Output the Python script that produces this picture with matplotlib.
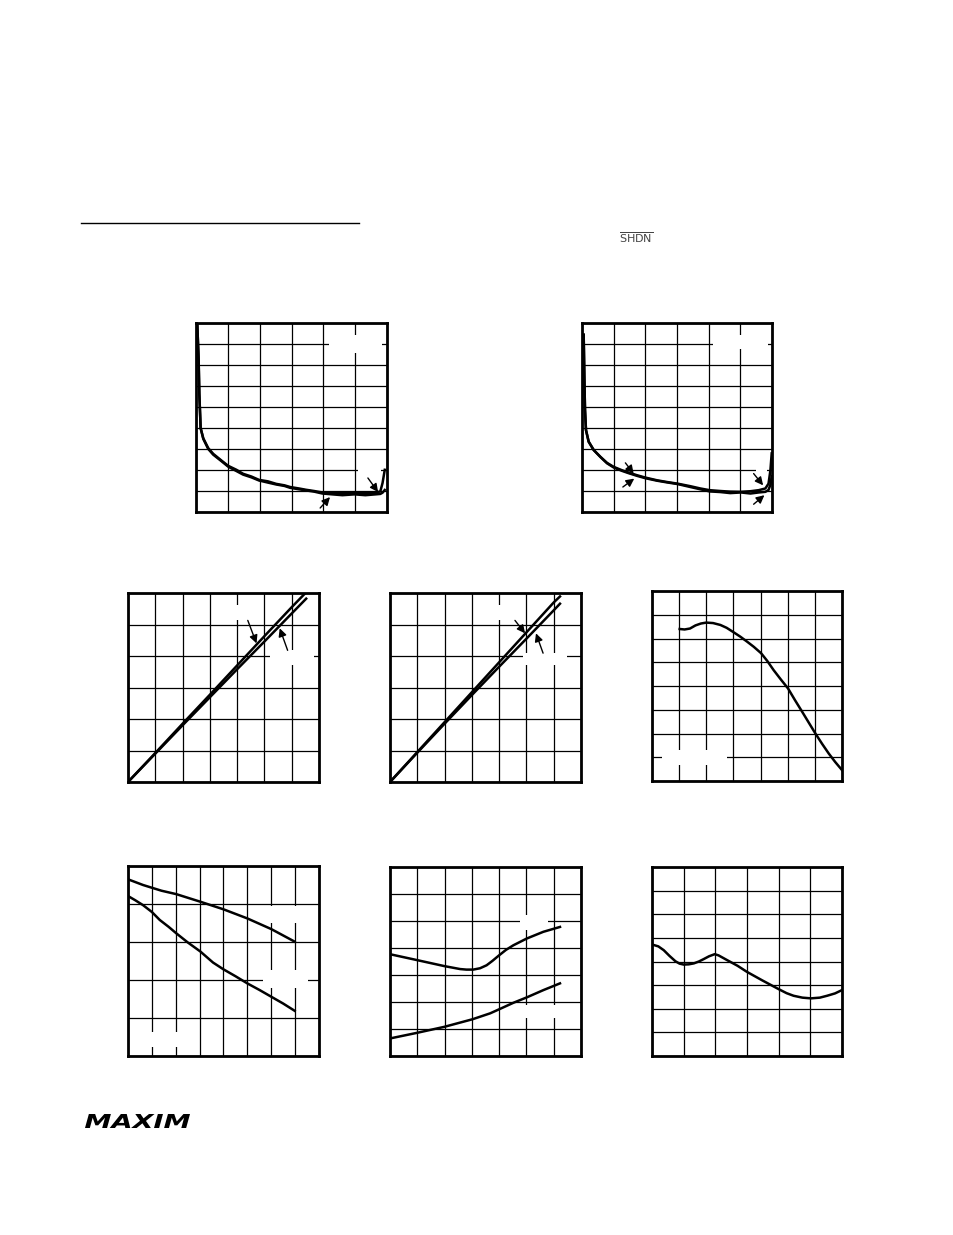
import numpy as np
import matplotlib
matplotlib.use('Agg')
import matplotlib.pyplot as plt
from matplotlib.patches import Rectangle, PathPatch
from matplotlib.textpath import TextPath
from matplotlib.font_manager import FontProperties
from matplotlib.transforms import Affine2D

# grid units on every panel (tick labels are blank on the page)
# panel 1: two traces, steep drop then flat
p1_x = [0.04, 0.083, 0.104, 0.146, 0.229, 0.385, 0.541, 0.80, 1.01, 1.27, 1.48, 1.74, 1.98, 2.26, 2.52,
        2.78, 2.96, 3.24, 3.45, 3.71, 3.97, 4.28, 4.60, 4.98, 5.32, 5.64, 5.79, 5.86, 5.93]
p1_a = [8.97, 7.23, 5.65, 3.99, 3.51, 3.04, 2.77, 2.45, 2.20, 2.01, 1.82, 1.69, 1.53, 1.46, 1.34,
        1.27, 1.19, 1.12, 1.06, 1.00, 0.93, 0.90, 0.90, 0.90, 0.90, 0.92, 0.98, 1.38, 2.01]
p1_b = [8.97, 7.23, 5.65, 3.99, 3.48, 3.00, 2.73, 2.42, 2.16, 1.95, 1.78, 1.65, 1.50, 1.40, 1.31,
        1.24, 1.15, 1.08, 1.03, 0.97, 0.88, 0.84, 0.80, 0.84, 0.80, 0.84, 0.86, 0.92, 1.05]

# panel 2
p2_x = [0.053, 0.074, 0.095, 0.126, 0.21, 0.37, 0.58, 0.79, 1.0, 1.26, 1.47, 1.74, 2.0, 2.37, 2.68,
        3.02, 3.42, 3.74, 4.03, 4.37, 4.68, 5.02, 5.32, 5.58, 5.79, 5.89, 5.95, 5.99]
p2_a = [8.44, 6.45, 4.86, 3.90, 3.35, 2.95, 2.63, 2.34, 2.15, 1.99, 1.88, 1.75, 1.64, 1.51, 1.43,
        1.35, 1.23, 1.12, 1.04, 1.00, 0.97, 0.96, 0.99, 1.04, 1.12, 1.35, 1.99, 2.79]
p2_b = [8.44, 6.45, 4.86, 3.90, 3.35, 2.95, 2.62, 2.32, 2.12, 1.96, 1.85, 1.72, 1.61, 1.49, 1.41,
        1.33, 1.19, 1.08, 0.98, 0.95, 0.90, 0.93, 0.88, 0.93, 0.96, 1.05, 1.30, 1.70]

# panel 3: two near-straight lines
p3_xa = [0, 1, 2, 3, 4, 5, 6, 6.47]
p3_ya = [0, 0.92, 1.85, 2.77, 3.70, 4.63, 5.55, 5.97]
p3_xb = [0, 1, 2, 3, 4, 5, 6, 6.53]
p3_yb = [0, 0.90, 1.80, 2.69, 3.58, 4.46, 5.35, 5.82]

# panel 4
p4_xa = [0, 1, 2, 3, 4, 5, 6, 6.23]
p4_ya = [0, 0.95, 1.90, 2.85, 3.80, 4.75, 5.70, 5.89]
p4_xb = [0, 1, 2, 3, 4, 5, 6, 6.23]
p4_yb = [0, 0.93, 1.85, 2.76, 3.66, 4.55, 5.45, 5.66]

# panel 5: single roll-off curve
p5_x = [1.02, 1.2, 1.4, 1.6, 1.8, 2.0, 2.25, 2.52, 2.75, 3.01, 3.25, 3.5, 3.75, 4.02, 4.25, 4.48,
        4.75, 5.01, 5.27, 5.53, 5.78, 6.02, 6.27, 6.51, 6.75, 7.0]
p5_y = [6.40, 6.38, 6.42, 6.55, 6.63, 6.67, 6.65, 6.57, 6.45, 6.26, 6.08, 5.87, 5.65, 5.38, 5.05, 4.67,
        4.27, 3.90, 3.40, 2.92, 2.45, 2.00, 1.56, 1.16, 0.80, 0.46]

# panel 6: two falling curves
p6_x = [0, 0.63, 1.4, 2.02, 3.03, 4.0, 5.0, 6.0, 6.98]
p6_a = [4.65, 4.50, 4.35, 4.26, 4.06, 3.86, 3.62, 3.34, 3.01]
p6_xb = [0, 0.3, 0.63, 1.0, 1.33, 1.7, 2.02, 2.5, 3.03, 3.56, 4.0, 4.5, 5.0, 5.5, 6.0, 6.5, 6.98]
p6_b = [4.21, 4.10, 3.97, 3.79, 3.58, 3.40, 3.23, 2.99, 2.75, 2.46, 2.28, 2.10, 1.91, 1.74, 1.56, 1.38, 1.19]

# panel 7: dip-then-rise curve and rising curve
p7_xa = [0, 1.0, 1.99, 2.57, 2.8, 3.05, 3.3, 3.54, 3.75, 4.0, 4.25, 4.52, 5.01, 5.62, 6.23]
p7_ya = [3.77, 3.55, 3.33, 3.22, 3.20, 3.20, 3.25, 3.36, 3.52, 3.73, 3.93, 4.10, 4.35, 4.60, 4.78]
p7_xb = [0, 1.0, 1.99, 3.02, 3.67, 4.0, 4.52, 5.01, 5.62, 6.23]
p7_yb = [0.65, 0.86, 1.08, 1.36, 1.58, 1.73, 1.97, 2.17, 2.44, 2.69]

# panel 8: wavy curve
p8_x = [0, 0.2, 0.37, 0.55, 0.74, 0.87, 1.0, 1.16, 1.32, 1.48, 1.63, 1.8, 1.98, 2.1, 2.37, 2.7, 3.0,
        3.47, 4.0, 4.25, 4.47, 4.75, 5.02, 5.3, 5.53, 5.78, 6.0]
p8_y = [4.72, 4.64, 4.48, 4.24, 4.01, 3.91, 3.87, 3.88, 3.92, 4.00, 4.10, 4.22, 4.31, 4.26, 4.06, 3.82,
        3.56, 3.21, 2.83, 2.66, 2.55, 2.47, 2.44, 2.47, 2.55, 2.65, 2.79]

W, H = 954, 1235
fig = plt.figure(figsize=(W / 100, H / 100), dpi=100)
fig.patch.set_facecolor('white')


def panel(x0, y0, x1, y1, nx, ny):
    """Axes placed by page pixels, plain black grid, no labels"""
    ax = fig.add_axes([x0 / W, 1 - y1 / H, (x1 - x0) / W, (y1 - y0) / H])
    ax.set_xlim(0, nx)
    ax.set_ylim(0, ny)
    ax.set_xticks(range(nx + 1))
    ax.set_yticks(range(ny + 1))
    ax.tick_params(length=0, labelbottom=False, labelleft=False)
    ax.set_axisbelow(True)
    ax.grid(True, color='black', lw=0.9)
    for s in ax.spines.values():
        s.set_linewidth(2.0)
        s.set_zorder(5)
    return ax


def blank(ax, x0, x1, y0, y1):
    # white area where a label used to sit
    ax.add_patch(Rectangle((x0, y0), x1 - x0, y1 - y0, facecolor='white',
                           edgecolor='none', zorder=1))


def arrow(ax, xs, ys, xe, ye):
    ax.annotate('', xy=(xe, ye), xytext=(xs, ys),
                arrowprops=dict(arrowstyle='-|>', color='black', lw=1.0,
                                mutation_scale=12, shrinkA=0, shrinkB=0), zorder=4)


lw = 1.8

ax1 = panel(196, 323, 387, 512, 6, 9)
blank(ax1, 4.18, 5.84, 7.57, 8.43)
blank(ax1, 5.09, 5.81, 1.75, 2.12)
ax1.plot(p1_x, p1_b, color='black', lw=lw, zorder=3)
ax1.plot(p1_x, p1_a, color='black', lw=lw, zorder=3)
arrow(ax1, 3.90, 0.19, 4.21, 0.71)
arrow(ax1, 5.40, 1.62, 5.72, 0.95)

ax2 = panel(582, 323, 772, 512, 6, 9)
blank(ax2, 4.14, 5.87, 7.76, 8.43)
blank(ax2, 5.5, 5.85, 1.8, 2.1)
ax2.plot(p2_x, p2_b, color='black', lw=lw, zorder=3)
ax2.plot(p2_x, p2_a, color='black', lw=lw, zorder=3)
arrow(ax2, 1.37, 2.34, 1.63, 1.83)
arrow(ax2, 1.29, 1.19, 1.65, 1.59)
arrow(ax2, 5.42, 1.83, 5.72, 1.27)
arrow(ax2, 5.42, 0.37, 5.76, 0.80)

ax3 = panel(128, 593, 319, 782, 7, 6)
blank(ax3, 3.92, 4.90, 5.13, 5.61)
blank(ax3, 5.19, 6.80, 3.70, 4.18)
ax3.plot(p3_xa, p3_ya, color='black', lw=lw, zorder=3)
ax3.plot(p3_xb, p3_yb, color='black', lw=lw, zorder=3)
arrow(ax3, 4.39, 5.13, 4.71, 4.40)
arrow(ax3, 5.85, 4.18, 5.56, 4.88)

ax4 = panel(390, 593, 581, 782, 7, 6)
blank(ax4, 3.96, 4.95, 5.13, 5.61)
blank(ax4, 4.87, 6.49, 3.70, 4.09)
ax4.plot(p4_xa, p4_ya, color='black', lw=lw, zorder=3)
ax4.plot(p4_xb, p4_yb, color='black', lw=lw, zorder=3)
arrow(ax4, 4.58, 5.13, 4.95, 4.72)
arrow(ax4, 5.61, 4.09, 5.35, 4.72)

ax5 = panel(652, 591, 842, 781, 7, 8)
blank(ax5, 0.37, 2.76, 0.67, 1.31)
ax5.plot(p5_x, p5_y, color='black', lw=lw, zorder=3)

ax6 = panel(128, 866, 319, 1056, 8, 5)
blank(ax6, 5.81, 7.61, 3.50, 3.95)
blank(ax6, 5.65, 7.54, 1.79, 2.26)
blank(ax6, 0.78, 2.29, 0.24, 0.63)
ax6.plot(p6_x, p6_a, color='black', lw=lw, zorder=3)
ax6.plot(p6_xb, p6_b, color='black', lw=lw, zorder=3)

ax7 = panel(390, 867, 581, 1056, 7, 7)
blank(ax7, 4.76, 5.79, 4.66, 5.21)
blank(ax7, 4.76, 6.78, 1.42, 1.90)
ax7.plot(p7_xa, p7_ya, color='black', lw=lw, zorder=3)
ax7.plot(p7_xb, p7_yb, color='black', lw=lw, zorder=3)

ax8 = panel(652, 867, 842, 1056, 6, 8)
ax8.plot(p8_x, p8_y, color='black', lw=lw, zorder=3)

# section rule and pin name near the top
fig.add_artist(plt.Line2D([81 / W, 359 / W], [1 - 223 / H, 1 - 223 / H], color='black', lw=1.0))
fig.text(636 / W, 1 - 238 / H, r'$\overline{\mathrm{SHDN}}$', ha='center', va='center',
         fontsize=8, color='#444444')

# logo, stretched to its box on the page
tp = TextPath((0, 0), 'MAXIM', size=10,
              prop=FontProperties(family='DejaVu Sans', weight='bold', style='italic'))
bb = tp.get_extents()
logo_tr = (Affine2D().translate(-bb.x0, -bb.y0)
           .scale(105 / bb.width / W, 14 / bb.height / H)
           .translate(85 / W, 1 - 1128 / H) + fig.transFigure)
fig.add_artist(PathPatch(tp, transform=logo_tr, facecolor='black', edgecolor='none'))

fig.savefig('out.png', dpi=100, facecolor='white')
